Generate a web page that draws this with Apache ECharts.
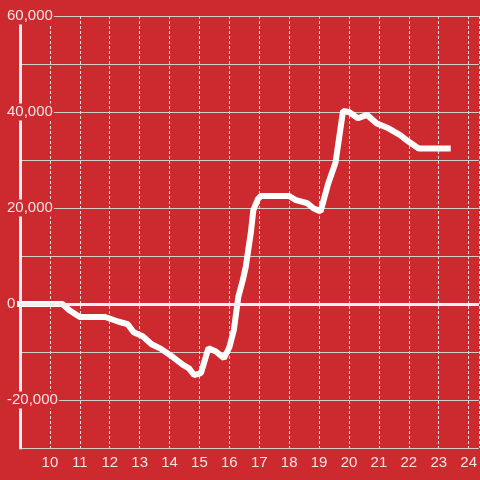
<!DOCTYPE html>
<html>
<head>
<meta charset="utf-8">
<script src="https://cdn.jsdelivr.net/npm/echarts@6/dist/echarts.min.js"></script>
<style>
  html, body { margin: 0; padding: 0; background: #cc2a2f; }
  #chart { width: 480px; height: 480px; }
</style>
</head>
<body>
<div id="chart"></div>
<script>
// hour of day and cumulative value
const hours = [9, 10.42, 10.65, 11, 11.85, 12.3, 12.6, 12.8, 13.1, 13.4, 13.7, 14.1, 14.45, 14.65, 14.82,
  15.05, 15.3, 15.55, 15.82, 16.0, 16.15, 16.3, 16.45, 16.55, 16.72, 16.8, 16.95, 17.05, 18.0, 18.2,
  18.6, 18.82, 19.05, 19.3, 19.55, 19.8, 20.0, 20.3, 20.6, 20.93, 21.32, 21.71, 22.0, 22.33, 23.3];
const values = [0, 0, -1300, -2700, -2700, -3700, -4200, -5900, -6700, -8400, -9300, -11000, -12700, -13400, -14800,
  -14400, -9200, -9900, -11300, -9000, -5400, 1500, 5000, 7800, 15000, 19500, 21800, 22500, 22500, 21700,
  21000, 19900, 19300, 25000, 29500, 40200, 40000, 38700, 39400, 37600, 36600, 35200, 33800, 32400, 32400];

const chart = echarts.init(document.getElementById("chart"));
const points = hours.map((h, i) => [h, values[i]]);

const option = {
  backgroundColor: "#cc2a2f",
  animation: false,
  grid: { left: 20, right: 0, top: 16, bottom: 32 },
  xAxis: {
    type: "value",
    min: 9,
    max: 24.34,
    interval: 1,
    axisLine: { show: false },
    axisTick: { show: false },
    axisLabel: {
      color: "#f3e4e4",
      fontSize: 15,
      fontFamily: "Liberation Sans",
      margin: 7,
      showMinLabel: false,
      showMaxLabel: false,
    },
    splitLine: {
      show: true,
      lineStyle: { color: "#e8dede", type: [3, 2], width: 1 },
    },
  },
  yAxis: {
    type: "value",
    min: -30000,
    max: 60000,
    interval: 10000,
    axisLine: { show: true, lineStyle: { color: "#f2eeee", width: 3 } },
    axisTick: { show: false },
    axisLabel: {
      color: "#f3e4e4",
      fontSize: 15,
      fontFamily: "Liberation Sans",
      align: "left",
      margin: 14,
      backgroundColor: "#cc2a2f",
      padding: [1, 1, 1, 1],
      formatter: (v) => (v % 20000 === 0 && v > -30000 ? v.toLocaleString("en-US") : ""),
    },
    splitLine: {
      show: true,
      lineStyle: { color: "#d4cccc", width: 1 },
    },
  },
  series: [
    {
      type: "line",
      data: points,
      symbol: "none",
      clip: false,
      lineStyle: { color: "#ffffff", width: 6, cap: "square" },
      markLine: {
        silent: true,
        symbol: "none",
        label: { show: false },
        lineStyle: { color: "#f5f0f0", width: 3, type: "solid" },
        data: [{ yAxis: 0 }],
      },
    },
  ],
};

chart.setOption(option);
</script>
</body>
</html>
